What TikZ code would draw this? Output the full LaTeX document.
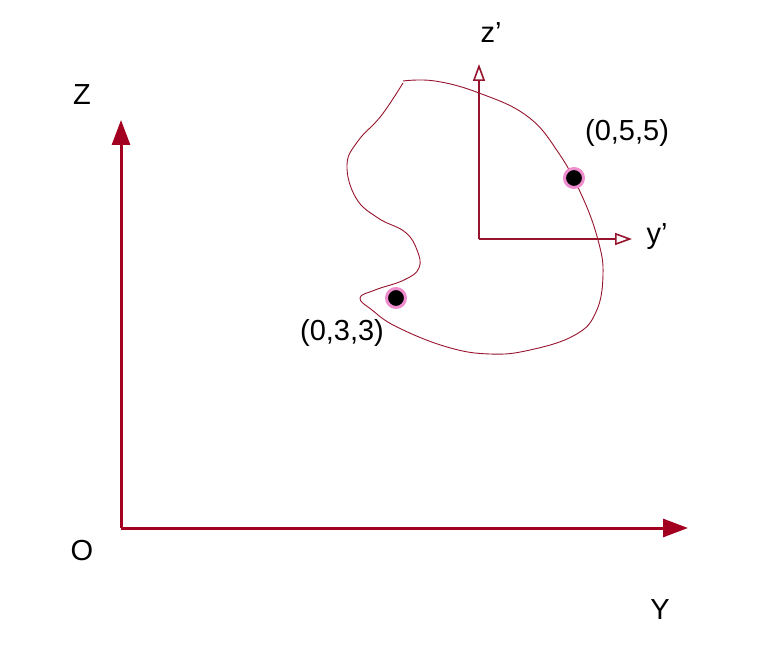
\documentclass[tikz,border=0pt]{standalone}
\usepackage{fontspec}
\setmainfont{Liberation Sans}
\usetikzlibrary{arrows.meta}
\definecolor{axisred}{RGB}{163,0,33}
\definecolor{thinred}{RGB}{150,20,45}
\definecolor{ringpink}{RGB}{238,140,205}
\tikzset{
  bigaxis/.style={draw=axisred, line width=3pt, -{Triangle[length=25pt,width=18pt]}},
  smallaxis/.style={draw=thinred, line width=2pt, -{Triangle[open,length=17pt,width=12pt,line width=1.6pt]}},
  lbl/.style={font=\fontsize{29}{34}\selectfont, text=black, inner sep=0pt},
  pt/.style={circle, fill=black, draw=ringpink, line width=3pt, minimum size=19pt, inner sep=0pt}
}
\begin{document}
\begin{tikzpicture}[x=1pt,y=-1pt]
\useasboundingbox (0,0) rectangle (780,658);
% main axes
\coordinate (O) at (121,528);
\coordinate (Ztip) at (121,120);
\coordinate (Ytip) at (688,528);
\draw[bigaxis] (O) -- (Ztip);
\draw[bigaxis] (O) -- (Ytip);
\node[lbl] (Zl) at (82,95) {Z};
\node[lbl] (Ol) at (82,551) {O};
\node[lbl] (Yl) at (660,610) {Y};
% blob
\draw[thinred, line width=0.9pt] plot[smooth, tension=0.7] coordinates {(403,81) (435,81) (479,93) (527,116) (558,152) (582,196) (598,240) (603,275) (596,312) (575,335) (530,350) (490,354) (447,347) (397,327) (372,310) (360,298) (375,290) (404,280) (419,268) (417,250) (405,232) (378,218) (356,198) (347,165) (358,141) (381,116) (403,83)};
% local axes
\coordinate (o2) at (479,239);
\coordinate (z2tip) at (479,64);
\coordinate (y2tip) at (632,239);
\draw[smallaxis] (o2) -- (z2tip);
\draw[smallaxis] (o2) -- (y2tip);
\node[lbl] (z2l) at (491,33) {z’};
\node[lbl] (y2l) at (657,237) {y’};
% points
\node[pt] (p55) at (574,178) {};
\node[pt] (p33) at (396,298) {};
\node[lbl] (l55) at (627,133) {(0,5,5)};
\node[lbl] (l33) at (342,333) {(0,3,3)};
\end{tikzpicture}
\end{document}
